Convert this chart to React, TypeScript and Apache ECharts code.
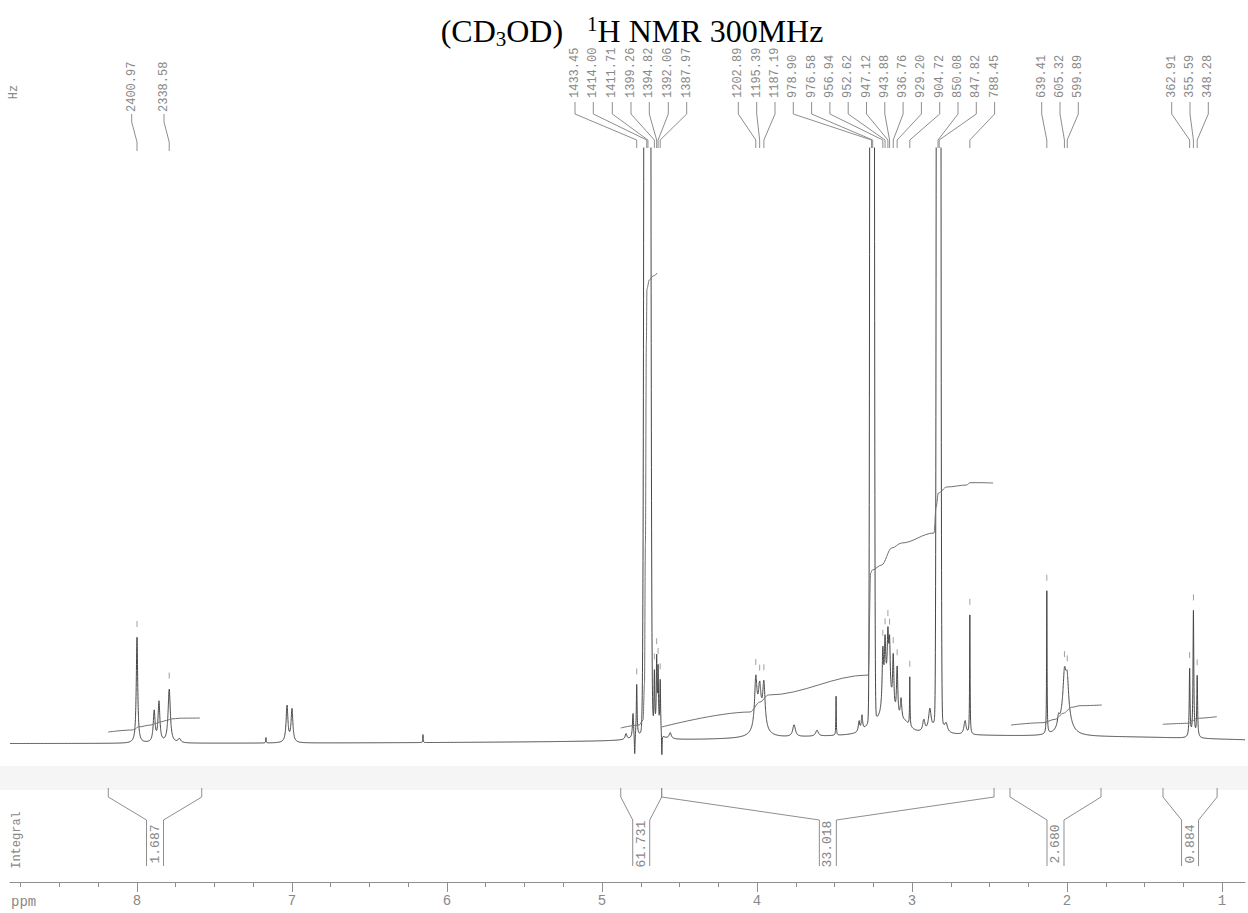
import React, { useEffect, useRef } from 'react';
import * as echarts from 'echarts';

// Spectrometer frequency used to turn the Hz peak labels into ppm.
const SF_MHZ = 300.13;
const hz = (v: number) => v / SF_MHZ;

// Plotted chemical-shift window (ppm), right edge ... left edge.
const PPM_MIN = 0.852;
const PPM_MAX = 8.819;

// Picked peaks (Hz), as printed above the spectrum.
const HZ_LABELS = [
  2400.97, 2338.58, 1433.45, 1414.0, 1411.71, 1399.26, 1394.82, 1392.06, 1387.97,
  1202.89, 1195.39, 1187.19, 978.9, 976.58, 956.94, 952.62, 947.12, 943.88, 936.76,
  929.2, 904.72, 850.08, 847.82, 788.45, 639.41, 605.32, 599.89, 362.91, 355.59, 348.28,
];

// Horizontal placement (px) of each rotated peak label in the label row.
const LABEL_X = [
  131.7, 164, 575, 593.3, 612.3, 631, 649.3, 668.3, 686.7, 738.3, 756.7, 775,
  793.3, 811.6, 829.9, 848.2, 866.5, 884.8, 903.1, 921.4, 939.7, 958, 976.3, 994.6,
  1041.7, 1060, 1078.3, 1171.7, 1190, 1208.3,
];

// Peak table: [centre ppm, height above baseline, half width (ppm), line shape]
type Peak = [number, number, number, 'L' | 'G'];
const PEAKS: Peak[] = [
  // aromatic region
  [hz(2400.97), 106, 0.0055, 'L'],
  [7.889, 31, 0.007, 'L'],
  [7.858, 40, 0.007, 'L'],
  [hz(2338.58), 54, 0.0085, 'L'],
  [7.726, 4, 0.01, 'L'],
  [7.168, 6, 0.0015, 'L'],
  [7.032, 37, 0.007, 'L'],
  [7.0, 33, 0.007, 'L'],
  [6.155, 8, 0.0015, 'L'],
  // residual water and neighbours
  [4.845, 6, 0.006, 'L'],
  [4.8, 25, 0.004, 'L'],
  [hz(1433.45), 52, 0.003, 'L'],
  [4.789, -22, 0.0025, 'L'],
  [hz(1414.0), 4500, 0.011, 'G'],
  [hz(1411.71), 4500, 0.011, 'G'],
  [4.708, 12, 0.05, 'L'],
  [hz(1399.26), 60, 0.003, 'L'],
  [hz(1394.82), 72, 0.003, 'L'],
  [hz(1392.06), 62, 0.003, 'L'],
  [hz(1387.97), 54, 0.003, 'L'],
  [4.614, -23, 0.002, 'L'],
  [4.56, 6, 0.008, 'L'],
  // 4.0 ppm multiplet
  [hz(1202.89), 47, 0.009, 'L'],
  [hz(1195.39), 30, 0.009, 'L'],
  [hz(1187.19), 42, 0.009, 'L'],
  [3.982, 18, 0.035, 'L'],
  [3.761, 12, 0.01, 'L'],
  [3.613, 6, 0.01, 'L'],
  [3.49, 39, 0.0015, 'L'],
  [3.342, 11, 0.005, 'L'],
  [3.323, 15, 0.005, 'L'],
  // solvent signal
  [hz(978.9), 4000, 0.007, 'G'],
  [hz(976.58), 4000, 0.007, 'G'],
  [3.258, 14, 0.035, 'L'],
  // 3.2 - 3.0 ppm multiplet
  [hz(956.94), 54, 0.005, 'L'],
  [hz(952.62), 52, 0.005, 'L'],
  [hz(947.12), 52, 0.005, 'L'],
  [hz(943.88), 50, 0.005, 'L'],
  [hz(936.76), 55, 0.005, 'L'],
  [hz(929.2), 52, 0.005, 'L'],
  [3.071, 22, 0.006, 'L'],
  [3.16, 40, 0.035, 'L'],
  [3.045, 9, 0.04, 'L'],
  [hz(904.72), 49, 0.0018, 'L'],
  [2.924, 12, 0.008, 'L'],
  [2.885, 22, 0.01, 'L'],
  // 2.83 ppm singlet
  [hz(850.08), 4000, 0.007, 'G'],
  [hz(847.82), 4000, 0.007, 'G'],
  [2.829, 45, 0.015, 'L'],
  [2.78, 8, 0.01, 'L'],
  [2.658, 14, 0.008, 'L'],
  [hz(788.45), 119, 0.0018, 'L'],
  // aliphatic region
  [hz(639.41), 143, 0.0018, 'L'],
  [hz(605.32), 30, 0.01, 'L'],
  [hz(599.89), 28, 0.01, 'L'],
  [2.01, 34, 0.03, 'L'],
  [2.055, 10, 0.008, 'L'],
  [hz(362.91), 68, 0.003, 'L'],
  [hz(355.59), 126, 0.003, 'L'],
  [hz(348.28), 61, 0.003, 'L'],
  // broad baseline hump
  [3.0, 8, 1.4, 'L'],
  [1.5, 3, 0.8, 'L'],
];

// Integral regions (ppm) and their printed values.
const INTEGRAL_FROM = [8.185, 4.879, 4.615, 2.368, 1.381];
const INTEGRAL_TO = [7.582, 4.615, 2.471, 1.781, 1.032];
const INTEGRAL_VALUES = ['1.687', '61.731', '33.018', '2.680', '0.884'];

// Running-integral traces: [ppm, height above baseline]
const INT_AROMATIC: [number, number][] = [
  [8.185, 12], [8.03, 14], [8.012, 15], [7.995, 17], [7.91, 19], [7.88, 20.5],
  [7.85, 22], [7.81, 23.5], [7.78, 25], [7.72, 25.8], [7.594, 26],
];
const INT_WATER: [number, number][] = [
  [4.879, 16], [4.76, 19], [4.735, 24], [4.726, 60], [4.72, 200], [4.714, 400],
  [4.71, 455], [4.695, 464], [4.67, 468], [4.643, 471],
];
const INT_MIDDLE: [number, number][] = [
  [4.615, 17], [4.045, 32], [3.981, 42], [3.927, 49], [3.282, 69], [3.267, 171],
  [3.256, 174], [3.196, 179], [3.131, 196], [3.067, 201], [2.858, 211], [2.845, 237],
  [2.83, 251], [2.776, 257], [2.647, 259], [2.626, 261.3], [2.561, 261.3], [2.477, 261],
];
const INT_ALIPHATIC: [number, number][] = [
  [2.361, 19], [2.155, 21.3], [2.077, 24.7], [2.024, 30.7], [1.97, 36.7], [1.916, 38.3], [1.776, 39],
];
const INT_METHYL: [number, number][] = [
  [1.383, 19.7], [1.217, 20.7], [1.192, 23.3], [1.163, 25.7], [1.034, 27.3],
];

// Axis ticks (ppm)
const MAJOR_TICKS = [1, 2, 3, 4, 5, 6, 7, 8];
const MINOR_TICKS: number[] = [];
for (let k = 4; k <= 35; k++) MINOR_TICKS.push(k * 0.25);

const MONO = '"Liberation Mono", "DejaVu Sans Mono", monospace';
const SERIF = '"Liberation Serif", "Times New Roman", serif';
const LABEL_GREY = '#888888';
const LINE_GREY = '#8e8e8e';

function intensity(ppm: number): number {
  let s = 0;
  for (const [c, h, w, shape] of PEAKS) {
    const d = ppm - c;
    if (shape === 'G') s += h * Math.exp((-Math.LN2 * d * d) / (w * w));
    else s += (h * w * w) / (d * d + w * w);
  }
  return s;
}

function buildSpectrum(): [number, number][] {
  const xs: number[] = [];
  const step = 0.0005;
  const n = Math.round((PPM_MAX - PPM_MIN) / step);
  for (let i = 0; i <= n; i++) xs.push(PPM_MIN + i * step);
  for (const p of PEAKS) if (p[2] < 0.05) xs.push(p[0]);
  xs.sort((a, b) => a - b);
  return xs.map((p) => [p, intensity(p)]);
}

export default function App() {
  const ref = useRef<HTMLDivElement>(null);

  useEffect(() => {
    if (!ref.current) return;
    const chart = echarts.init(ref.current, undefined, { renderer: 'svg' });
    const spectrum = buildSpectrum();
    const markerTops = HZ_LABELS.map((v) => intensity(hz(v)));

    const baseAxis = {
      type: 'value' as const,
      gridIndex: 0,
      min: PPM_MIN,
      max: PPM_MAX,
      inverse: true,
      position: 'bottom' as const,
      offset: 118,
      splitLine: { show: false },
    };

    const integralLine = (data: [number, number][]) => ({
      type: 'line',
      data,
      showSymbol: false,
      smooth: 0.35,
      smoothMonotone: 'x',
      lineStyle: { color: '#707070', width: 1 },
      silent: true,
      clip: false,
      z: 4,
    });

    chart.setOption({
      animation: false,
      backgroundColor: '#ffffff',
      grid: { left: 10, right: 3, top: 148, bottom: 149, containLabel: false },
      xAxis: [
        {
          ...baseAxis,
          axisLine: { show: true, onZero: false, lineStyle: { color: LINE_GREY, width: 1 } },
          axisTick: { show: true, customValues: MINOR_TICKS, length: 5, lineStyle: { color: LINE_GREY } },
          axisLabel: { show: false },
        },
        {
          ...baseAxis,
          axisLine: { show: false, onZero: false },
          axisTick: { show: true, customValues: MAJOR_TICKS, length: 10, lineStyle: { color: LINE_GREY } },
          axisLabel: {
            show: true,
            customValues: MAJOR_TICKS,
            color: LABEL_GREY,
            fontFamily: MONO,
            fontSize: 14,
            margin: 12,
            formatter: (v: number) => String(Math.round(v)),
          },
        },
      ],
      yAxis: { type: 'value', min: -20, max: 596, show: false },
      graphic: [
        {
          type: 'rect',
          z: 0,
          silent: true,
          shape: { x: 0, y: 766, width: 1248, height: 24 },
          style: { fill: 'rgba(0,0,0,0.04)' },
        },
        {
          type: 'text',
          x: 632,
          y: 31,
          z: 10,
          style: {
            text: '{a|(CD}{s|3}{a|OD)   }{p|1}{a|H NMR 300MHz}',
            align: 'center',
            verticalAlign: 'middle',
            rich: {
              a: { fontFamily: SERIF, fontSize: 32, lineHeight: 36, fill: '#000' },
              s: { fontFamily: SERIF, fontSize: 21, lineHeight: 22, verticalAlign: 'bottom', fill: '#000' },
              p: { fontFamily: SERIF, fontSize: 21, lineHeight: 22, verticalAlign: 'top', fill: '#000' },
            },
          },
        },
        {
          type: 'text',
          x: 14,
          y: 92,
          rotation: Math.PI / 2,
          style: { text: 'Hz', font: `12px ${MONO}`, fill: LABEL_GREY, align: 'center', verticalAlign: 'middle' },
        },
        {
          type: 'text',
          x: 17,
          y: 840,
          rotation: Math.PI / 2,
          style: { text: 'Integral', font: `12px ${MONO}`, fill: LABEL_GREY, align: 'center', verticalAlign: 'middle' },
        },
        {
          type: 'text',
          x: 11,
          y: 902,
          style: { text: 'ppm', font: `14px ${MONO}`, fill: LABEL_GREY, align: 'left', verticalAlign: 'middle' },
        },
      ],
      series: [
        {
          type: 'line',
          name: 'spectrum',
          data: spectrum,
          showSymbol: false,
          lineStyle: { color: '#474747', width: 1 },
          silent: true,
          clip: true,
          z: 3,
        },
        integralLine(INT_AROMATIC),
        integralLine(INT_WATER),
        integralLine(INT_MIDDLE),
        integralLine(INT_ALIPHATIC),
        integralLine(INT_METHYL),
        {
          // integral brackets with their values
          type: 'custom',
          coordinateSystem: 'cartesian2d',
          silent: true,
          clip: false,
          z: 5,
          data: INTEGRAL_FROM.map((f, i) => [f, INTEGRAL_TO[i], 0, i]),
          encode: { x: [0, 1], y: 2 },
          renderItem: (_params: any, api: any) => {
            const i = api.value(3);
            const x1 = api.coord([api.value(0), 0])[0];
            const x2 = api.coord([api.value(1), 0])[0];
            const xc = (x1 + x2) / 2;
            const hw = 8.5;
            const stroke = { stroke: LINE_GREY, fill: null, lineWidth: 1 };
            return {
              type: 'group',
              children: [
                { type: 'polyline', shape: { points: [[x1, 788], [x1, 797], [xc - hw, 820], [xc - hw, 866]] }, style: stroke },
                { type: 'polyline', shape: { points: [[x2, 788], [x2, 797], [xc + hw, 820], [xc + hw, 866]] }, style: stroke },
                {
                  type: 'text',
                  x: xc,
                  y: 844,
                  rotation: Math.PI / 2,
                  style: {
                    text: INTEGRAL_VALUES[i],
                    font: `13px ${MONO}`,
                    fill: LABEL_GREY,
                    align: 'center',
                    verticalAlign: 'middle',
                  },
                },
              ],
            };
          },
        },
        {
          // peak labels (Hz), leader lines and pick markers
          type: 'custom',
          coordinateSystem: 'cartesian2d',
          silent: true,
          clip: false,
          z: 5,
          data: HZ_LABELS.map((v, i) => [hz(v), 0, i]),
          encode: { x: 0, y: 1 },
          renderItem: (_params: any, api: any) => {
            const i = api.value(2);
            const ppm = api.value(0);
            const px = api.coord([ppm, 0])[0];
            const lx = LABEL_X[i];
            const firstRow = i < 2;
            const bottom = firstRow ? 112 : 98;
            const pts = firstRow
              ? [[lx, 114], [lx, 122], [px, 142], [px, 151]]
              : [[lx, 102], [lx, 114], [px, 140], [px, 148]];
            const children: any[] = [
              { type: 'polyline', shape: { points: pts }, style: { stroke: LINE_GREY, fill: null, lineWidth: 1 } },
              {
                type: 'text',
                x: lx,
                y: bottom,
                rotation: Math.PI / 2,
                style: {
                  text: HZ_LABELS[i].toFixed(2),
                  font: `12px ${MONO}`,
                  fill: LABEL_GREY,
                  align: 'left',
                  verticalAlign: 'middle',
                },
              },
            ];
            const top = markerTops[i];
            if (top + 18 < 596) {
              const [mx, my] = api.coord([ppm, top]);
              children.push({
                type: 'line',
                shape: { x1: mx, y1: my - 10, x2: mx, y2: my - 16 },
                style: { stroke: '#a0a0a0', lineWidth: 1 },
              });
            }
            return { type: 'group', children };
          },
        },
      ],
    });

    return () => chart.dispose();
  }, []);

  return (
    <div
      ref={ref}
      style={{ position: 'absolute', left: 0, top: 0, width: 1248, height: 913, background: '#fff' }}
    />
  );
}
